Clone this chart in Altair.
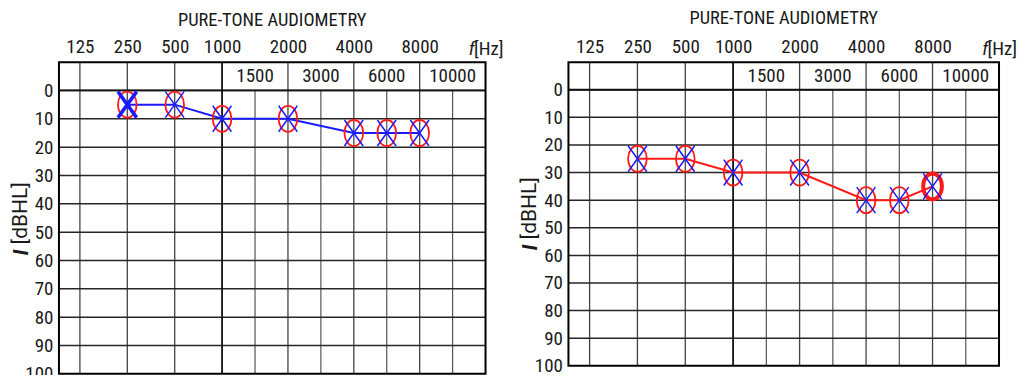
import altair as alt
import pandas as pd

# ---- data ----
freqs = [250, 500, 1000, 2000, 4000, 6000, 8000]
left_levels = [5, 5, 10, 10, 15, 15, 15]
right_levels = [25, 25, 30, 30, 40, 40, 35]
left_bold_x_freq = 250      # emphasised blue X in left audiogram
right_bold_o_freq = 8000    # emphasised red O in right audiogram

top_ticks = [125, 250, 500, 1000, 2000, 4000, 8000]
mid_ticks = [1500, 3000, 6000, 10000]
db_ticks = [0, 10, 20, 30, 40, 50, 60, 70, 80, 90, 100]
title_text = "PURE-TONE AUDIOMETRY"

FONT = "Roboto Condensed, Liberation Sans Narrow, DejaVu Sans Condensed, Roboto"
TFONT = "Roboto, Noto Sans, sans-serif"
BLUE = "#1a1aff"
RED = "#ff1a1a"
FS = 19

# audiogram x layout: octave columns up to 1000 Hz, half-octave columns above
x_domain = [88, 125, 250, 500, 1000, 1500, 2000, 3000, 4000, 6000, 8000, 10000, 12000]
x_frac = [0, 21, 68.5, 116, 163.5, 196.5, 229.5, 262.5, 295.5, 328.5, 361.5, 394.5, 427.5]

ELLIPSE = "M0,-1A0.72,1,0,1,1,0,1A0.72,1,0,1,1,0,-1Z"
XMARK = "M-0.72,-1L0.72,1M-0.72,1L0.72,-1"


def panel(levels, line_color, bold_x, bold_o, W, H, toff):
    xr = [v / x_frac[-1] * W for v in x_frac]
    xs = alt.Scale(type="linear", domain=x_domain, range=xr, zero=False, nice=False)
    ys = alt.Scale(domain=[-10, 100], reverse=True, zero=False, nice=False)

    xaxis = alt.Axis(orient="top", values=top_ticks, format="d", ticks=False,
                     domain=False, grid=False, labelFont=FONT, labelFontSize=FS,
                     labelColor="#1a1a1a", labelPadding=6, labelOverlap=False,
                     labelFlush=False, title=None)
    yaxis = alt.Axis(values=db_ticks, ticks=False, domain=False, grid=False,
                     labelFont=FONT, labelFontSize=FS, labelColor="#1a1a1a",
                     labelPadding=6, labelOverlap=False, labelFlush=False, title=None)

    def X(field):
        return alt.X(field, scale=xs, axis=xaxis)

    def Y(field):
        return alt.Y(field, scale=ys, axis=yaxis)

    pts = pd.DataFrame({"f": freqs, "db": levels})
    pts["bx"] = [3.5 if f == bold_x else 1.5 for f in freqs]
    pts["bo"] = [4.0 if f == bold_o else 1.8 for f in freqs]

    vt = pd.DataFrame({"f": top_ticks, "y0": -10, "y1": 100})
    vrules = alt.Chart(vt).mark_rule(color="#444", strokeWidth=1.3).encode(
        x=X("f:Q"), y=Y("y0:Q"), y2="y1:Q")

    hl = pd.DataFrame({"db": [v for v in db_ticks if v < 100], "a": x_domain[0], "b": x_domain[-1]})
    hrules = alt.Chart(hl).mark_rule(color="#262626", strokeWidth=1.5).encode(
        x=X("a:Q"), x2="b:Q", y=Y("db:Q"))

    vm = pd.DataFrame({"f": mid_ticks, "y0": 0, "y1": 100})
    vrules2 = alt.Chart(vm).mark_rule(color="#555", strokeWidth=1.2).encode(
        x=X("f:Q"), y=Y("y0:Q"), y2="y1:Q")

    sep = alt.Chart(pd.DataFrame({"f": [1000], "y0": [-10], "y1": [100]})).mark_rule(
        color="#111", strokeWidth=1.6).encode(x=X("f:Q"), y=Y("y0:Q"), y2="y1:Q")

    box = alt.Chart(pd.DataFrame({"a": [x_domain[0]], "b": [x_domain[-1]],
                                  "y0": [-10], "y1": [100]})).mark_rect(
        fill=None, stroke="#000", strokeWidth=2).encode(
        x=X("a:Q"), x2="b:Q", y=Y("y0:Q"), y2="y1:Q")

    zero = alt.Chart(pd.DataFrame({"a": [x_domain[0]], "b": [x_domain[-1]], "db": [0]})).mark_rule(
        color="#111", strokeWidth=1.8).encode(x=X("a:Q"), x2="b:Q", y=Y("db:Q"))

    mids = alt.Chart(pd.DataFrame({"f": mid_ticks, "db": [-5] * len(mid_ticks)})).mark_text(
        font=FONT, fontSize=FS, color="#1a1a1a", baseline="middle").encode(
        x=X("f:Q"), y=Y("db:Q"), text=alt.Text("f:Q", format="d"))

    line = alt.Chart(pts).mark_line(color=line_color, strokeWidth=2).encode(
        x=X("f:Q"), y=Y("db:Q"))

    oo = alt.Chart(pts).mark_point(shape=ELLIPSE, size=676, filled=False, color=RED,
                                   opacity=1).encode(
        x=X("f:Q"), y=Y("db:Q"), strokeWidth=alt.StrokeWidth("bo:Q", scale=None))

    xx = alt.Chart(pts).mark_point(shape=XMARK, size=676, filled=False, color=BLUE,
                                   opacity=1).encode(
        x=X("f:Q"), y=Y("db:Q"), strokeWidth=alt.StrokeWidth("bx:Q", scale=None))

    fz1 = alt.Chart(pd.DataFrame({"t": ["f"]})).mark_text(
        font=FONT, fontSize=FS, fontStyle="italic", color="#1a1a1a", align="right",
        baseline="alphabetic").encode(x=alt.value(W - 11), y=alt.value(-7), text="t:N")
    fz2 = alt.Chart(pd.DataFrame({"t": ["[Hz]"]})).mark_text(
        font=FONT, fontSize=FS, color="#1a1a1a", align="right",
        baseline="alphabetic").encode(x=alt.value(W + 18), y=alt.value(-7), text="t:N")

    yt1 = alt.Chart(pd.DataFrame({"t": ["I"]})).mark_text(
        font=TFONT, fontSize=21, fontStyle="italic", fontWeight="bold", color="#1a1a1a",
        align="left", baseline="middle", angle=270).encode(
        x=alt.value(-37), y=alt.value(0.62 * H), text="t:N")
    yt2 = alt.Chart(pd.DataFrame({"t": ["[dBHL]"]})).mark_text(
        font=TFONT, fontSize=21, color="#1a1a1a",
        align="left", baseline="middle", angle=270).encode(
        x=alt.value(-38), y=alt.value(0.62 * H - 11), text="t:N")

    return alt.layer(vrules, vrules2, hrules, sep, zero, box, mids, line, oo, xx,
                     fz1, fz2, yt1, yt2).properties(
        width=W, height=H,
        title=alt.TitleParams(title_text, font=FONT, fontSize=18.5, fontWeight="normal",
                              color="#1a1a1a", anchor="middle", offset=toff))


left = panel(left_levels, BLUE, left_bold_x_freq, None, 427, 312, 8)
right = panel(right_levels, RED, None, right_bold_o_freq, 431, 304, 10)

chart = alt.hconcat(left, right, spacing=16).properties(
    padding={"left": 2, "top": 0, "right": 0, "bottom": -9},
    background="white").configure_view(stroke=None)

chart.save("out.html", embed_options={"renderer": "svg", "actions": False})
